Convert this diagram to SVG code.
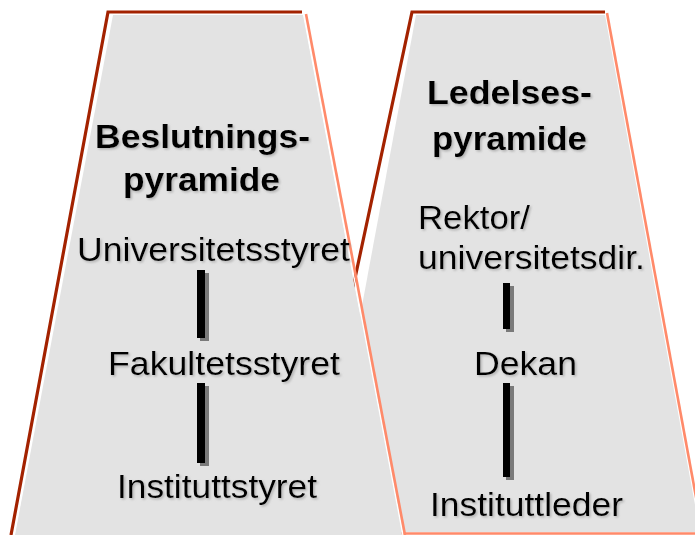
<svg xmlns="http://www.w3.org/2000/svg" width="695" height="535" viewBox="0 0 695 535">
<defs>
<style>
.fill{fill:#e3e3e3;stroke:none}
.dark{fill:none;stroke:#a32200;stroke-width:3.2;stroke-linejoin:miter}
.light{fill:none;stroke:#ff8a6a;stroke-width:2.6}
.hl{fill:none;stroke:#ffffff;stroke-width:1.5}
.t{font-family:"Liberation Sans",Arial,sans-serif;font-size:33px;fill:#000;filter:url(#sh)}
.b{font-weight:bold}
.bar{fill:#000}
.barsh{fill:#7a7a7a}
</style>
<filter id="sh" x="-10%" y="-30%" width="120%" height="160%">
<feDropShadow dx="1.5" dy="1.5" stdDeviation="0.8" flood-color="#909090" flood-opacity="0.6"/>
</filter>
</defs>
<rect width="695" height="535" fill="#ffffff"/>
<g id="pyramid-right">
<polygon class="fill" points="416,15 605,15 700,532 320,532"/>
<polyline class="dark" points="300,535 412,12 605,12"/>
<polyline class="light" points="607,13 703,535"/>
<line class="light" x1="320" y1="533.5" x2="700" y2="533.5"/>
</g>
<g id="pyramid-left">
<polygon class="fill" points="113,15 303,15 402,535 15,535"/>
<polyline class="hl" points="14,535 110.5,14 304,14 403,535"/>
<polyline class="dark" points="11,535 108,12 302,12"/>
<polyline class="light" points="306,14 405,535"/>
</g>
<g id="connectors">
<rect class="barsh" x="200" y="273" width="9" height="68"/>
<rect class="bar" x="197" y="270" width="8" height="68"/>
<rect class="barsh" x="200" y="386" width="9" height="80"/>
<rect class="bar" x="197" y="383" width="8" height="80"/>
<rect class="barsh" x="506" y="286" width="8" height="46"/>
<rect class="bar" x="503" y="283" width="7" height="46"/>
<rect class="barsh" x="506" y="386" width="8" height="94"/>
<rect class="bar" x="503" y="383" width="7" height="94"/>
</g>
<g id="title-left">
<text class="t b" x="95" y="148" textLength="215" lengthAdjust="spacingAndGlyphs">Beslutnings-</text>
<text class="t b" x="123" y="191" textLength="157" lengthAdjust="spacingAndGlyphs">pyramide</text>
</g>
<g id="node-universitetsstyret">
<text class="t" x="77" y="261" textLength="273" lengthAdjust="spacingAndGlyphs">Universitetsstyret</text>
</g>
<g id="node-fakultetsstyret">
<text class="t" x="108" y="375" textLength="232" lengthAdjust="spacingAndGlyphs">Fakultetsstyret</text>
</g>
<g id="node-instituttstyret">
<text class="t" x="117" y="498" textLength="200" lengthAdjust="spacingAndGlyphs">Instituttstyret</text>
</g>
<g id="title-right">
<text class="t b" x="427" y="104" textLength="165" lengthAdjust="spacingAndGlyphs">Ledelses-</text>
<text class="t b" x="432" y="150" textLength="155" lengthAdjust="spacingAndGlyphs">pyramide</text>
</g>
<g id="node-rektor">
<text class="t" x="418" y="229" textLength="112" lengthAdjust="spacingAndGlyphs">Rektor/</text>
<text class="t" x="418" y="269" textLength="227" lengthAdjust="spacingAndGlyphs">universitetsdir.</text>
</g>
<g id="node-dekan">
<text class="t" x="474" y="375" textLength="103" lengthAdjust="spacingAndGlyphs">Dekan</text>
</g>
<g id="node-instituttleder">
<text class="t" x="430" y="516" textLength="193" lengthAdjust="spacingAndGlyphs">Instituttleder</text>
</g>
</svg>
